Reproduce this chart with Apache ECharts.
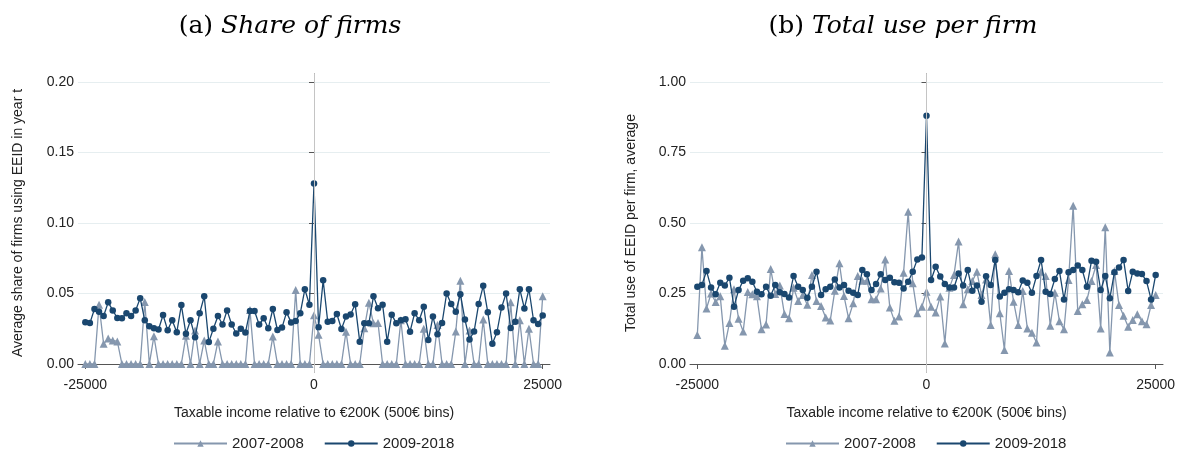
<!DOCTYPE html>
<html>
<head>
<meta charset="utf-8">
<script src="https://cdn.jsdelivr.net/npm/echarts@6/dist/echarts.min.js"></script>
<style>
  html, body { margin: 0; padding: 0; background: #ffffff; }
  #chart { width: 1179px; height: 450px; }
</style>
</head>
<body>
<div id="chart"></div>
<script>
// Income bins: -25000 .. 25000 in steps of 500 (101 bins)
const binCount = 101;
const binStart = -25000;
const binStep = 500;

const xTicks = [-25000, 0, 25000];
const yTicksShare = [0, 0.05, 0.10, 0.15, 0.20];
const yTicksUse = [0, 0.25, 0.50, 0.75, 1.00];

const seriesNames = ['2007-2008', '2009-2018'];

// (a) Share of firms using EEID, 2007-2008
const share0708 = [
  0, 0, 0, 0.042, 0.0143, 0.018, 0.0167, 0.016, 0, 0,
  0, 0, 0, 0.044, 0, 0.0197, 0, 0, 0, 0,
  0, 0, 0.02, 0, 0.0237, 0, 0.0167, 0, 0, 0.016,
  0, 0, 0, 0, 0, 0, 0.0383, 0, 0, 0,
  0, 0.0194, 0, 0, 0, 0, 0.0525, 0, 0, 0,
  0.0346, 0.0207, 0, 0, 0, 0, 0, 0.0229, 0, 0,
  0, 0.0253, 0.0435, 0.0288, 0.029, 0, 0, 0, 0, 0.031,
  0, 0, 0, 0, 0.025, 0, 0, 0.0277, 0, 0,
  0, 0.023, 0.059, 0, 0.0237, 0, 0, 0.0315, 0, 0,
  0, 0, 0, 0.0437, 0, 0.031, 0, 0.025, 0, 0,
  0.048
];

// (a) Share of firms using EEID, 2009-2018
const share0918 = [
  0.0296, 0.029, 0.039, 0.037, 0.034, 0.0437, 0.038, 0.0326, 0.0324, 0.036,
  0.034, 0.038, 0.0467, 0.031, 0.0268, 0.0254, 0.0244, 0.0347, 0.024, 0.031,
  0.0225, 0.0418, 0.0214, 0.031, 0.019, 0.036, 0.048, 0.0155, 0.025, 0.034,
  0.028, 0.038, 0.028, 0.0216, 0.025, 0.0223, 0.0376, 0.0376, 0.028, 0.0324,
  0.0253, 0.039, 0.0241, 0.0258, 0.0366, 0.0295, 0.0305, 0.036, 0.053, 0.042,
  0.128, 0.026, 0.0594, 0.030, 0.0305, 0.0354, 0.0248, 0.0336, 0.0351, 0.0423,
  0.0158, 0.0288, 0.0288, 0.048, 0.0395, 0.042, 0.0158, 0.035, 0.0288, 0.031,
  0.0317, 0.0229, 0.036, 0.031, 0.0406, 0.017, 0.0336, 0.021, 0.029, 0.050,
  0.0425, 0.037, 0.0495, 0.0315, 0.0174, 0.023, 0.0425, 0.0554, 0.0366, 0.0143,
  0.0225, 0.040, 0.050, 0.0256, 0.030, 0.053, 0.0394, 0.053, 0.031, 0.0284,
  0.0343
];

// (b) Total use of EEID per firm, 2007-2008
const use0708 = [
  0.103, 0.414, 0.197, 0.25, 0.22, 0.24, 0.065, 0.145, 0.265, 0.16,
  0.115, 0.255, 0.247, 0.24, 0.123, 0.14, 0.337, 0.248, 0.278, 0.177,
  0.162, 0.27, 0.223, 0.245, 0.21, 0.316, 0.223, 0.206, 0.165, 0.154,
  0.26, 0.357, 0.241, 0.162, 0.215, 0.312, 0.295, 0.295, 0.23, 0.23,
  0.268, 0.371, 0.2, 0.153, 0.168, 0.324, 0.54, 0.286, 0.18, 0.203,
  0.256, 0.203, 0.183, 0.239, 0.073, 0.27, 0.316, 0.434, 0.212, 0.265,
  0.294, 0.327, 0.245, 0.30, 0.138, 0.389, 0.18, 0.05, 0.33, 0.221,
  0.138, 0.259, 0.126, 0.111, 0.076, 0.327, 0.312, 0.136, 0.253, 0.152,
  0.123, 0.298, 0.561, 0.188, 0.212, 0.227, 0.294, 0.351, 0.126, 0.485,
  0.041, 0.33, 0.209, 0.171, 0.132, 0.156, 0.176, 0.152, 0.141, 0.209,
  0.245
];

// (b) Total use of EEID per firm, 2009-2018
const use0918 = [
  0.274, 0.28, 0.33, 0.271, 0.247, 0.288, 0.278, 0.306, 0.203, 0.262,
  0.295, 0.304, 0.292, 0.256, 0.247, 0.274, 0.242, 0.28, 0.254, 0.248,
  0.236, 0.312, 0.274, 0.262, 0.235, 0.274, 0.327, 0.245, 0.265, 0.274,
  0.30, 0.271, 0.28, 0.26, 0.253, 0.245, 0.333, 0.318, 0.262, 0.284,
  0.318, 0.298, 0.306, 0.29, 0.288, 0.268, 0.292, 0.327, 0.371, 0.378,
  0.88, 0.298, 0.345, 0.31, 0.284, 0.271, 0.271, 0.321, 0.278, 0.333,
  0.26, 0.278, 0.221, 0.311, 0.28, 0.369, 0.239, 0.253, 0.265, 0.262,
  0.254, 0.296, 0.288, 0.253, 0.312, 0.369, 0.256, 0.248, 0.301, 0.33,
  0.229, 0.325, 0.333, 0.349, 0.333, 0.274, 0.366, 0.363, 0.262, 0.312,
  0.233, 0.325, 0.342, 0.369, 0.259, 0.327, 0.321, 0.319, 0.294, 0.229,
  0.316
];

const bins = Array.from({ length: binCount }, (_, i) => binStart + i * binStep);
const pairs = (vals) => vals.map((v, i) => [bins[i], v]);

const COLOR_LIGHT = '#8597ae';
const COLOR_DARK = '#1a476f';
const AXIS_COLOR = '#555555';
const GRID_COLOR = '#e6eef0';
const SANS = '"Liberation Sans", Arial, Helvetica, sans-serif';
const SERIF = '"DejaVu Serif", "Liberation Serif", serif';

function xAxisFor(gridIndex) {
  return {
    type: 'value', gridIndex,
    min: -25800, max: 25800,
    name: 'Taxable income relative to €200K (500€ bins)',
    nameLocation: 'middle', nameGap: 34,
    nameTextStyle: { fontFamily: SANS, fontSize: 14, color: '#222' },
    axisLine: { show: true, lineStyle: { color: AXIS_COLOR, width: 1 } },
    axisTick: { show: true, length: 5, lineStyle: { color: AXIS_COLOR }, customValues: xTicks },
    axisLabel: { customValues: xTicks, fontFamily: SANS, fontSize: 14, color: '#222', margin: 6,
                 formatter: (v) => String(v) },
    splitLine: { show: false }
  };
}

function yAxisFor(gridIndex, ticks, lo, hi, title, gap) {
  return {
    type: 'value', gridIndex,
    min: lo, max: hi,
    name: title,
    nameLocation: 'middle', nameGap: gap, nameRotate: 90,
    nameTextStyle: { fontFamily: SANS, fontSize: 14, color: '#222' },
    axisLine: { show: true, lineStyle: { color: AXIS_COLOR, width: 1 } },
    axisTick: { show: true, length: 5, lineStyle: { color: AXIS_COLOR }, customValues: ticks },
    axisLabel: { customValues: ticks, fontFamily: SANS, fontSize: 14, color: '#222', margin: 4,
                 formatter: (v) => v.toFixed(2) },
    splitLine: { show: true, lineStyle: { color: GRID_COLOR, width: 1 } }
  };
}

function lightSeries(idx, vals) {
  return {
    name: seriesNames[0], type: 'line',
    xAxisIndex: idx, yAxisIndex: idx,
    data: pairs(vals),
    symbol: 'triangle', symbolSize: 8,
    lineStyle: { color: COLOR_LIGHT, width: 1.3 },
    itemStyle: { color: COLOR_LIGHT },
    animation: false, z: 3,
    // vertical reference line at the threshold
    markLine: {
      silent: true, symbol: 'none', animation: false,
      label: { show: false },
      lineStyle: { color: '#c4c4c4', type: 'solid', width: 1 },
      data: [{ xAxis: 0 }]
    }
  };
}

function darkSeries(idx, vals) {
  return {
    name: seriesNames[1], type: 'line',
    xAxisIndex: idx, yAxisIndex: idx,
    data: pairs(vals),
    symbol: 'circle', symbolSize: 6.5,
    lineStyle: { color: COLOR_DARK, width: 1.3 },
    itemStyle: { color: COLOR_DARK },
    animation: false, z: 4
  };
}

function legendFor(leftX) {
  return {
    data: seriesNames,
    left: leftX, top: 431,
    itemWidth: 53, itemHeight: 8, itemGap: 20,
    textStyle: { fontFamily: SANS, fontSize: 15, color: '#222' },
    selectedMode: false
  };
}

function panelTitle(label, text, centerX) {
  return {
    text: '{n|' + label + ' }{i|' + text + '}',
    left: centerX, top: 9, textAlign: 'center',
    textStyle: { fontWeight: 'normal', rich: {
      n: { fontFamily: SERIF, fontSize: 25, fontWeight: 'normal', color: '#000' },
      i: { fontFamily: SERIF, fontSize: 25, fontWeight: 'normal', fontStyle: 'italic', color: '#000' }
    } }
  };
}

const chart = echarts.init(document.getElementById('chart'), null, { renderer: 'canvas' });

chart.setOption({
  backgroundColor: '#ffffff',
  animation: false,
  title: [
    panelTitle('(a)', 'Share of firms', 285),
    panelTitle('(b)', 'Total use per firm', 898)
  ],
  legend: [legendFor(168), legendFor(780)],
  grid: [
    { left: 78, width: 472, top: 74, height: 298, containLabel: false },
    { left: 690, width: 473, top: 74, height: 298, containLabel: false }
  ],
  xAxis: [xAxisFor(0), xAxisFor(1)],
  yAxis: [
    yAxisFor(0, yTicksShare, -0.0057, 0.2057, 'Average share of firms using EEID in year t', 53),
    yAxisFor(1, yTicksUse, -0.0284, 1.0284, 'Total use of EEID per firm, average', 52)
  ],
  series: [
    lightSeries(0, share0708),
    darkSeries(0, share0918),
    lightSeries(1, use0708),
    darkSeries(1, use0918)
  ]
});
</script>
</body>
</html>
